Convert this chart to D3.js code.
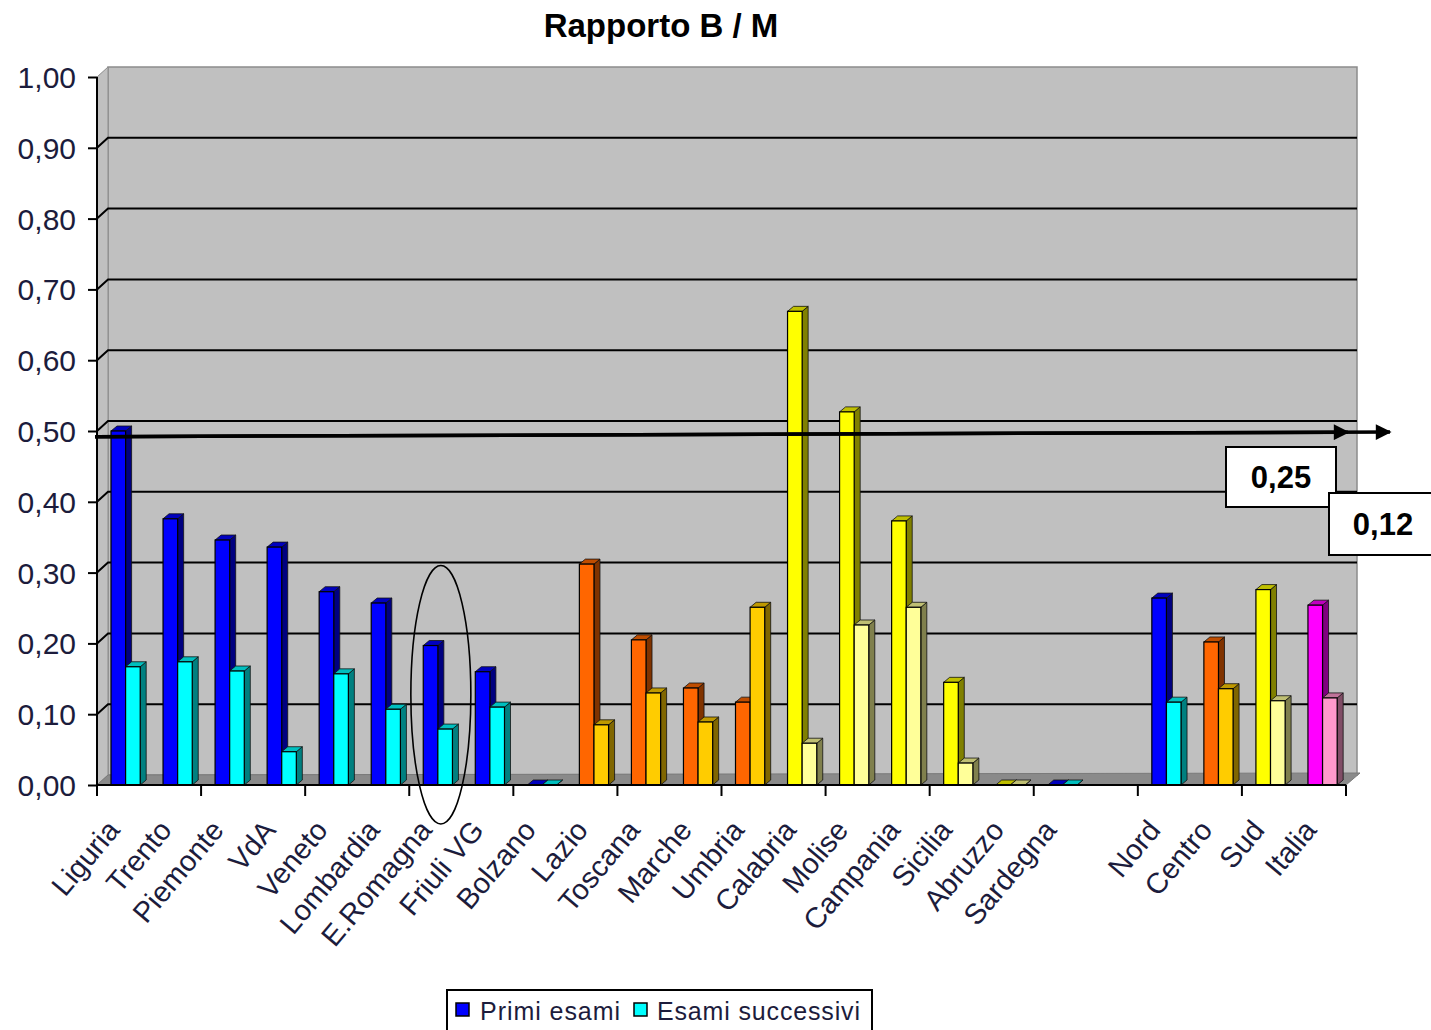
<!DOCTYPE html>
<html><head><meta charset="utf-8">
<script src="https://cdn.jsdelivr.net/npm/d3@7"></script>
<style>
html,body{margin:0;padding:0;background:#fff;}
svg{display:block;font-family:"Liberation Sans",Arial,sans-serif;}
</style></head>
<body><svg id="c" width="1431" height="1030"></svg>
<script>
const categories = ["Liguria","Trento","Piemonte","VdA","Veneto","Lombardia","E.Romagna","Friuli VG","Bolzano",
  "Lazio","Toscana","Marche","Umbria",
  "Calabria","Molise","Campania","Sicilia","Abruzzo","Sardegna",
  "",
  "Nord","Centro","Sud","Italia"];
const primi = [0.500,0.376,0.346,0.336,0.273,0.257,0.197,0.160,0,
  0.312,0.205,0.137,0.117,
  0.669,0.527,0.373,0.145,0,0,
  null,
  0.264,0.202,0.276,0.254];
const successivi = [0.167,0.174,0.161,0.047,0.157,0.107,0.079,0.110,0,
  0.085,0.130,0.089,0.251,
  0.059,0.226,0.251,0.031,0,0,
  null,
  0.117,0.136,0.119,0.123];
const groups = ["N","N","N","N","N","N","N","N","N",
  "C","C","C","C",
  "S","S","S","S","S","N",
  null,
  "N","C","S","I"];
const yTicks = [0,0.1,0.2,0.3,0.4,0.5,0.6,0.7,0.8,0.9,1.0];
const seriesNames = ["Primi esami","Esami successivi"];
const refLine = [0.492, 0.500];
const italiaLabels = ["0,25","0,12"];
const title = "Rapporto B / M";

const palette = {
  N:["#0000FF","#00FFFF"],
  C:["#FF6600","#FFCC00"],
  S:["#FFFF00","#FFFF99"],
  I:["#FF00FF","#FF99CC"]
};
function shade(c,f){const r=d3.rgb(c);return d3.rgb(r.r*f,r.g*f,r.b*f).formatHex();}

const svg = d3.select("#c");
const X0=97, X1=1346, DX=11, DY=-10;
const x = d3.scaleBand().domain(d3.range(categories.length)).range([X0,X1]);
const y = d3.scaleLinear().domain([0,1]).range([785,77]);
const fmt = d => d.toFixed(2).replace(".",",");
const txtCol = "#1c1c3c";

// title
svg.append("text").attr("x",661).attr("y",37).attr("text-anchor","middle")
  .attr("font-size",33).attr("font-weight","bold").attr("fill","#000").text(title);

// back wall
svg.append("rect").attr("x",X0+DX).attr("y",y(1)+DY).attr("width",X1+DX-(X0+DX)).attr("height",y(0)-y(1))
  .attr("fill","#C0C0C0").attr("stroke","#8c8c8c").attr("stroke-width",1.5);
// side wall
svg.append("path").attr("d",`M${X0},${y(0)}L${X0},${y(1)}L${X0+DX},${y(1)+DY}L${X0+DX},${y(0)+DY}Z`)
  .attr("fill","#C0C0C0").attr("stroke","#8c8c8c");
// gridlines
yTicks.filter(v=>v>0&&v<1).forEach(v=>{
  svg.append("path").attr("d",`M${X0},${y(v)}L${X0+DX},${y(v)+DY}L${X1+DX},${y(v)+DY}`)
    .attr("fill","none").attr("stroke","#000").attr("stroke-width",2);
});
// floor
svg.append("path").attr("d",`M${X0},${y(0)}L${X1},${y(0)}L${X1+DX+3},${y(0)+DY-2}L${X0+DX},${y(0)+DY}Z`)
  .attr("fill","#8a8a8a").attr("stroke","#7a7a7a");

// bars
const bw = 14.6, gap = 14, BDX = 6, BDY = -5;
function bar(g, x0, v, col){
  const w=bw, yt=y(v), yb=y(0);
  const side=shade(col,0.5), top=shade(col,0.75);
  g.append("path").attr("d",`M${x0+w},${yb}L${x0+w+BDX},${yb+BDY}L${x0+w+BDX},${yt+BDY}L${x0+w},${yt}Z`)
    .attr("fill",side).attr("stroke","#111").attr("stroke-width",0.8);
  g.append("path").attr("d",`M${x0},${yt}L${x0+BDX},${yt+BDY}L${x0+w+BDX},${yt+BDY}L${x0+w},${yt}Z`)
    .attr("fill",top).attr("stroke","#111").attr("stroke-width",0.8);
  if(v>0) g.append("rect").attr("x",x0).attr("y",yt).attr("width",w).attr("height",yb-yt)
    .attr("fill",col).attr("stroke","#000").attr("stroke-width",1.2);
}
const gb = svg.append("g");
categories.forEach((c,i)=>{
  if(primi[i]==null) return;
  const cols = palette[groups[i]];
  const bx = x(i)+gap;
  bar(gb, bx, primi[i], cols[0]);
  bar(gb, bx+bw, successivi[i], cols[1]);
});

// axes
svg.append("line").attr("x1",X0).attr("x2",X0).attr("y1",y(0)).attr("y2",y(1)).attr("stroke","#000").attr("stroke-width",2);
svg.append("line").attr("x1",X0).attr("x2",X1).attr("y1",y(0)).attr("y2",y(0)).attr("stroke","#000").attr("stroke-width",2);
const yAxis = svg.append("g").attr("transform",`translate(${X0},0)`)
  .call(d3.axisLeft(y).tickValues(yTicks).tickFormat(fmt).tickSize(9).tickPadding(12));
yAxis.select(".domain").remove();
yAxis.selectAll(".tick line").attr("stroke","#000").attr("stroke-width",2);
yAxis.selectAll(".tick text").attr("font-size",30).attr("fill",txtCol)
  .attr("font-family","'Liberation Sans',Arial,sans-serif").attr("dy","0.35em");

for(let i=0;i<=categories.length;i+=2){
  const xx = i<categories.length ? x(i) : X1;
  svg.append("line").attr("x1",xx).attr("x2",xx).attr("y1",y(0)).attr("y2",y(0)+11).attr("stroke","#000").attr("stroke-width",2);
}
categories.forEach((c,i)=>{
  if(!c) return;
  const cx = x(i)+x.bandwidth()/2;
  svg.append("text").attr("transform",`translate(${cx-2},831) rotate(-50)`)
    .attr("text-anchor","end").attr("font-size",29).attr("fill",txtCol).text(c);
});

// reference arrow line
const defs = svg.append("defs");
defs.append("marker").attr("id","ah").attr("viewBox","0 0 10 10").attr("refX",9).attr("refY",5)
  .attr("markerWidth",5).attr("markerHeight",4.5).attr("orient","auto").attr("markerUnits","strokeWidth")
  .append("path").attr("d","M0,0L10,5L0,10Z").attr("fill","#000");
const lx0=95, lx1=1390, ly0=y(refLine[0]), ly1=y(refLine[1])+1;
const lyAt = xx => ly0 + (ly1-ly0)*(xx-lx0)/(lx1-lx0);
svg.append("line").attr("x1",lx0).attr("y1",ly0).attr("x2",1348).attr("y2",lyAt(1348))
  .attr("stroke","#000").attr("stroke-width",3.5).attr("marker-end","url(#ah)");
svg.append("line").attr("x1",lx0).attr("y1",ly0).attr("x2",lx1).attr("y2",ly1)
  .attr("stroke","#000").attr("stroke-width",3.5).attr("marker-end","url(#ah)");

// ellipse annotation around E.Romagna
const ei = categories.indexOf("E.Romagna");
svg.append("ellipse").attr("cx",x(ei)+gap+bw+3).attr("cy",(y(0.31)+y(-0.055))/2)
  .attr("rx",30).attr("ry",(y(-0.055)-y(0.31))/2).attr("fill","none").attr("stroke","#000").attr("stroke-width",1.6);

// value boxes
function vbox(bx,by,w,h,t){
  svg.append("rect").attr("x",bx).attr("y",by).attr("width",w).attr("height",h)
    .attr("fill","#fff").attr("stroke","#000").attr("stroke-width",2);
  svg.append("text").attr("x",bx+w/2).attr("y",by+h/2).attr("dy","0.36em").attr("text-anchor","middle")
    .attr("font-size",31).attr("font-weight","bold").attr("fill","#000").text(t);
}
vbox(1226,447,110,60,italiaLabels[0]);
vbox(1329,493,108,62,italiaLabels[1]);

// legend
svg.append("rect").attr("x",447).attr("y",990).attr("width",425).attr("height",50)
  .attr("fill","#fff").attr("stroke","#000").attr("stroke-width",2);
const lg = [[456,480,140,palette.N[0]],[634,657,203,palette.N[1]]];
seriesNames.forEach((s,i)=>{
  const [sx,tx,tl,col]=lg[i];
  svg.append("rect").attr("x",sx).attr("y",1003).attr("width",13).attr("height",13)
    .attr("fill",col).attr("stroke","#000").attr("stroke-width",1.5);
  svg.append("text").attr("x",tx).attr("y",1020).attr("font-size",25).attr("fill",txtCol)
    .attr("textLength",tl).attr("lengthAdjust","spacing").text(s);
});
</script></body></html>
